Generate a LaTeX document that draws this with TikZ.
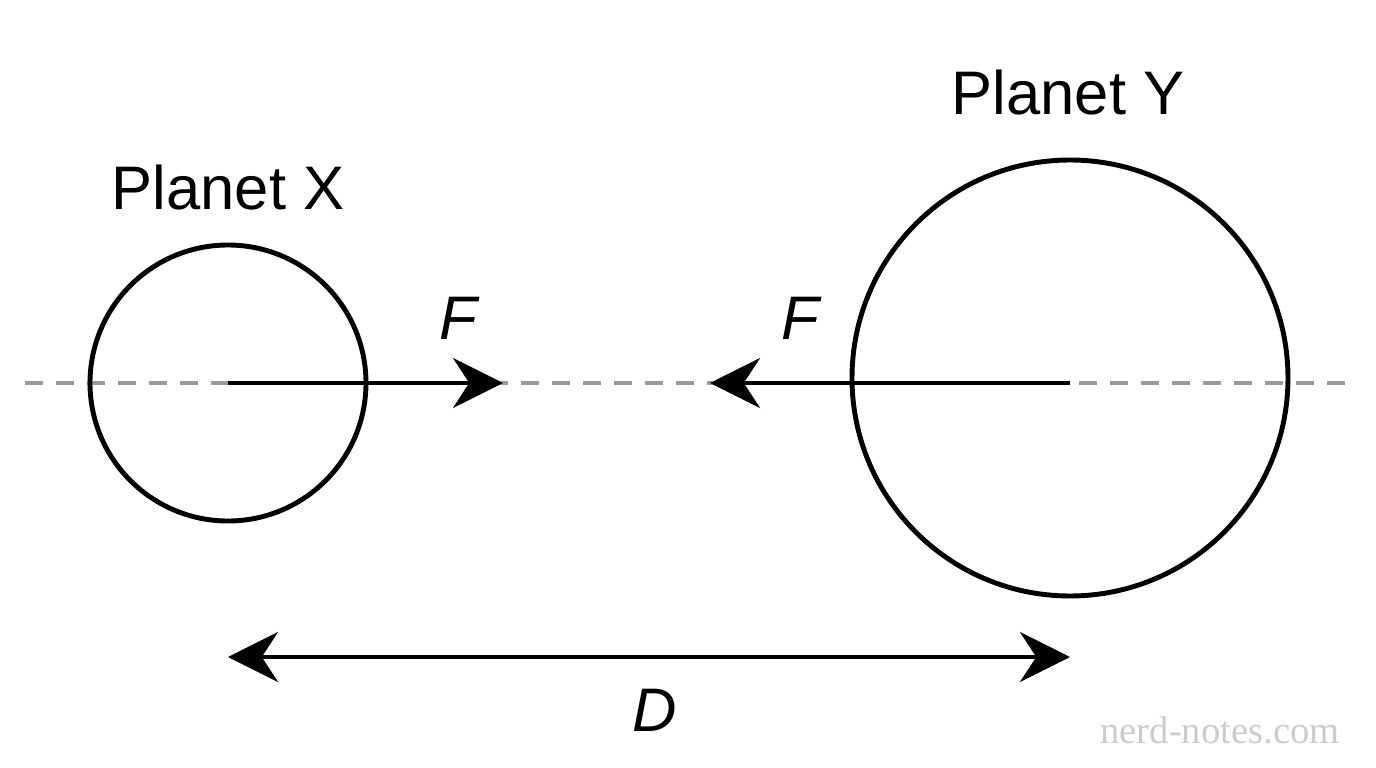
\documentclass[tikz,border=0pt]{standalone}
\usepackage{fontspec}
\setmainfont{Liberation Sans}
\usetikzlibrary{arrows.meta,positioning}

\begin{document}
\begin{tikzpicture}[
        every path/.style={line width=1.4pt},
        planet/.style={draw, circle, line width=1.4pt, inner sep=0pt},
        force/.style={-{Stealth[length=0.5cm,width=0.5cm]}},
        label/.style={font=\fontsize{17.5}{20}\selectfont}
    ]
    \useasboundingbox (0,0) rectangle (13.76,-7.68);

    % Axis
    \coordinate (axl) at (0.25,-3.83);
    \coordinate (axr) at (13.45,-3.83);
    \draw[gray!80, dash pattern=on 0.18cm off 0.13cm, line width=1.1pt] (axl) -- (axr);

    % Nodes
    \coordinate (cx) at (2.28,-3.83);
    \coordinate (cy) at (10.70,-3.83);
    \node (px) [planet, minimum size=2.76cm] at (cx) {};
    \node (py) [planet, minimum size=4.36cm, yshift=0.05cm] at (cy) {};
    \node (lx) [label] at (2.28,-1.88) {Planet X};
    \node (ly) [label] at (10.68,-0.93) {Planet Y};
    \coordinate (fx) at (5.03,-3.83);
    \coordinate (fy) at (7.10,-3.83);
    \node (lfx) [label] at (4.58,-3.18) {\itshape F};
    \node (lfy) [label] at (8.00,-3.18) {\itshape F};
    \coordinate (da) at (2.28,-6.57);
    \coordinate (db) at (10.70,-6.57);
    \node (ld) [label] at (6.55,-7.10) {\itshape D};
    \node (wm) [font=\fontsize{11}{13}\selectfont\fontspec{Liberation Serif}, text=gray!40] at (12.20,-7.30) {nerd-notes.com};

    % Edges
    \draw[force] (cx) -- (fx);
    \draw[force] (cy) -- (fy);
    \draw[{Stealth[length=0.5cm,width=0.5cm]}-{Stealth[length=0.5cm,width=0.5cm]}] (da) -- (db);
\end{tikzpicture}
\end{document}
